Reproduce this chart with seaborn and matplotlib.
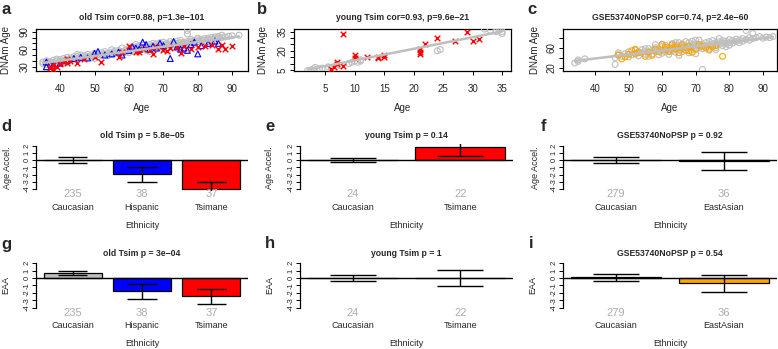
import numpy as np
import pandas as pd
import matplotlib
matplotlib.use("Agg")
import matplotlib.pyplot as plt
import seaborn as sns

# ---------------- data ----------------
# old Tsimane comparison: chronological age vs DNAm age
old_cauc_age = [35, 35, 36, 36, 36.5, 37, 37, 38, 38, 39, 39, 40, 40, 41, 41, 42, 42, 43, 43, 44,
                44, 45, 45, 46, 46, 47, 47, 48, 48, 49, 49, 50, 50, 51, 51, 52, 52, 53, 53, 54,
                54, 55, 55, 56, 56, 57, 57, 58, 58, 59, 59, 60, 60, 60, 61, 61, 61, 62, 62, 62,
                63, 63, 63, 64, 64, 64, 65, 65, 65, 66, 66, 66, 67, 67, 67, 68, 68, 68, 69, 69,
                69, 70, 70, 70, 71, 71, 71, 72, 72, 72, 73, 73, 73, 74, 74, 74, 75, 75, 75, 76,
                76, 76, 77, 77, 77, 77, 78, 78, 78, 79, 79, 79, 80, 80, 80, 81, 81, 82, 82, 83,
                83, 84, 84, 85, 85, 86, 86, 87, 87, 88, 89, 90, 92, 66, 70, 74, 58, 62, 45, 50, 55]
old_cauc_dnam = [38, 35, 40, 34, 37, 39, 36, 41, 37, 40, 43, 38, 42, 44, 40, 43, 46, 41, 45, 47,
                 43, 44, 48, 46, 50, 45, 49, 47, 51, 50, 46, 48, 53, 51, 47, 50, 54, 52, 56, 49,
                 53, 55, 51, 57, 53, 54, 58, 56, 52, 59, 55, 57, 61, 54, 59, 63, 56, 60, 64, 57,
                 61, 66, 58, 63, 60, 67, 62, 65, 58, 64, 68, 60, 63, 66, 70, 65, 61, 69, 66, 63,
                 71, 68, 64, 72, 67, 63, 70, 69, 65, 73, 68, 71, 64, 70, 66, 74, 71, 68, 75, 72,
                 69, 66, 73, 70, 92, 86, 74, 71, 77, 75, 72, 69, 76, 73, 79, 77, 74, 78, 75, 79,
                 76, 80, 77, 81, 78, 82, 79, 80, 84, 81, 82, 83, 84, 56, 60, 62, 62, 68, 51, 44, 59]
old_hisp_age = [36, 36, 38, 40, 42, 44, 46, 48, 50, 51, 53, 55, 57, 58, 60, 62, 63, 64, 65,
                66, 67, 68, 70, 72, 73, 74, 75, 76, 77, 78, 79, 80, 81, 83, 85, 86, 61, 69]
old_hisp_dnam = [30, 38, 33, 36, 40, 44, 46, 45, 53, 56, 50, 52, 55, 50, 58, 62, 60, 72, 68,
                 60, 65, 62, 66, 44, 73, 64, 60, 62, 58, 68, 72, 52, 66, 70, 74, 70, 64, 70]
old_tsim_age = [37, 37.5, 38, 38, 39, 40, 41, 42, 42, 43, 45, 47, 50, 52, 57, 58, 60, 62, 63,
                64, 66, 67, 68, 70, 72, 74, 75, 76, 78, 80, 82, 84, 86, 87, 88, 90, 71]
old_tsim_dnam = [27, 30, 26, 33, 29, 35, 38, 36, 44, 40, 36, 44, 46, 38, 47, 56, 66, 56, 55,
                 60, 58, 52, 64, 59, 62, 63, 53, 66, 60, 63, 66, 67, 60, 68, 61, 65, 57]

# young Tsimane comparison
young_cauc_age = [2, 2.5, 3, 3.3, 4, 4.5, 5.5, 6, 7, 7.5, 9, 9.5, 10, 10.5, 11, 11,
                  24, 24.5, 32, 33, 34, 34.5, 35, 35]
young_cauc_dnam = [4.5, 5, 6, 7, 6, 6.5, 7.5, 7, 9, 8.5, 10, 11, 12, 11, 13, 12,
                   20, 21, 37, 36, 35, 36.5, 35, 33.5]
young_tsim_age = [6, 6.5, 7, 7, 8, 8, 10, 10, 12, 14, 14, 15, 15, 21, 21, 22, 24, 27,
                  29, 30, 31, 21]
young_tsim_dnam = [6, 7, 10, 11.5, 8.5, 33.5, 17, 14.5, 15.5, 14.5, 15.5, 16.5, 15.5, 19,
                   21.5, 25, 30, 27.5, 35, 28, 29.5, 17.5]

# GSE53740 (no PSP) comparison
gse_cauc_age = [34, 35, 35, 37, 46, 46, 47, 47, 48, 49, 50, 50, 51, 52, 52, 53, 53, 54, 54, 55,
                55, 56, 56, 56, 57, 57, 58, 58, 59, 59, 60, 60, 60, 61, 61, 61, 62, 62, 62, 63,
                63, 63, 64, 64, 64, 65, 65, 65, 65, 66, 66, 66, 67, 67, 67, 68, 68, 68, 69, 69,
                69, 70, 70, 70, 70, 71, 71, 71, 72, 72, 72, 72, 73, 73, 73, 74, 74, 74, 75, 75,
                75, 76, 76, 76, 77, 77, 77, 78, 78, 78, 79, 79, 80, 80, 80, 81, 81, 82, 82, 83,
                83, 84, 84, 85, 85, 86, 86, 87, 87, 88, 89, 90, 91, 92, 93, 68, 64, 60, 58, 55,
                66, 74, 79, 70, 62, 76]
gse_cauc_dnam = [30, 33, 36, 38, 27, 40, 45, 50, 43, 48, 42, 52, 46, 49, 55, 44, 52, 50, 56, 47,
                 53, 58, 43, 51, 55, 48, 60, 52, 46, 56, 54, 62, 49, 58, 65, 52, 56, 60, 47, 62,
                 54, 68, 58, 65, 51, 60, 56, 70, 45, 63, 58, 67, 61, 55, 72, 64, 59, 50, 66, 61,
                 73, 63, 57, 68, 48, 65, 60, 75, 17, 67, 62, 58, 70, 64, 60, 66, 72, 61, 68, 63,
                 74, 70, 65, 60, 72, 67, 78, 69, 74, 64, 73, 68, 76, 70, 65, 74, 69, 77, 72, 75,
                 70, 78, 73, 94, 76, 80, 75, 88, 78, 80, 82, 79, 81, 80, 82, 70, 70, 67, 66, 58,
                 52, 55, 62, 75, 52, 56]
gse_asian_age = [47, 48, 49, 50, 51, 52, 52, 53, 55, 56, 57, 58, 59, 60, 61, 61, 62, 63, 63,
                 64, 64, 65, 66, 67, 68, 68, 69, 70, 71, 72, 73, 74, 75, 76, 78, 66]
gse_asian_dnam = [46, 38, 42, 47, 54, 48, 57, 50, 43, 51, 45, 57, 52, 66, 61, 56, 53, 66, 59,
                  57, 62, 50, 60, 55, 54, 62, 51, 57, 66, 63, 60, 57, 62, 64, 43, 66]

# group summaries for the bar panels
eth_old = ["Caucasian", "Hispanic", "Tsimane"]
eth_young = ["Caucasian", "Tsimane"]
eth_gse = ["Caucasian", "EastAsian"]
n_old = [235, 38, 37]
n_young = [24, 22]
n_gse = [279, 36]

ageaccel_old_mean = [0.0, -1.97, -4.0]
ageaccel_old_se = [0.42, 1.05, 1.0]
ageaccel_young_mean = [0.0, 1.87]
ageaccel_young_se = [0.3, 1.25]
ageaccel_gse_mean = [0.0, -0.13]
ageaccel_gse_se = [0.46, 1.23]

eaa_old_mean = [0.65, -1.8, -2.5]
eaa_old_se = [0.3, 1.0, 0.97]
eaa_young_mean = [0.02, 0.0]
eaa_young_se = [0.38, 1.02]
eaa_gse_mean = [0.08, -0.72]
eaa_gse_se = [0.45, 1.13]

eth_colors = {"Caucasian": "#BEBEBE", "Hispanic": "#0000FF",
              "Tsimane": "#FF0000", "EastAsian": "#FFA500"}

# ---------------- figure ----------------
sns.set_theme(style="white")
plt.rcParams["font.family"] = ["Liberation Sans", "DejaVu Sans"]
plt.rcParams["axes.unicode_minus"] = False

W, H = 778, 349
fig = plt.figure(figsize=(W / 100, H / 100), dpi=100)


def px_axes(l, t, r, b):
    return fig.add_axes([l / W, 1 - b / H, (r - l) / W, (b - t) / H])


def fig_text(x, y, s, **kw):
    fig.text(x / W, 1 - y / H, s, **kw)


GREY = "#BEBEBE"


def scatter_panel(rect, groups, xlim, ylim, xticks, yticks, ylabels, title, label_x):
    ax = px_axes(*rect)
    all_x, all_y = [], []
    for ages, dnam, marker, col in groups:
        if marker == "x":
            sns.scatterplot(x=ages, y=dnam, marker="x", color=col, s=16,
                            linewidth=1.0, ax=ax, zorder=3)
        else:
            sns.scatterplot(x=ages, y=dnam, marker=marker, facecolor="none",
                            edgecolor=col, s=18, linewidth=0.8, ax=ax, zorder=3)
        all_x += list(ages)
        all_y += list(dnam)
    sns.regplot(x=np.array(all_x), y=np.array(all_y), scatter=False, ci=None,
                color=GREY, line_kws={"lw": 1.8, "zorder": 4}, ax=ax, truncate=True)
    ax.set_xlim(*xlim)
    ax.set_ylim(*ylim)
    ax.set_xticks(xticks)
    ax.set_xticklabels([str(t) for t in xticks], fontsize=7)
    ax.set_yticks(yticks)
    ax.set_yticklabels([str(t) if t in ylabels else "" for t in yticks],
                       fontsize=7, rotation=90, va="center")
    ax.tick_params(axis="both", direction="out", length=3, width=0.7, color="black")
    ax.tick_params(axis="x", pad=6.5)
    ax.tick_params(axis="y", pad=1.5, left=True)
    ax.tick_params(axis="x", bottom=True)
    ax.set_xlabel("")
    ax.set_ylabel("")
    for sp in ax.spines.values():
        sp.set_visible(True)
        sp.set_color("black")
        sp.set_linewidth(0.9)
    cx = (rect[0] + rect[2]) / 2
    fig_text(cx, 17, title, fontsize=6.2, fontweight="bold", ha="center", va="center")
    fig_text(cx, 108, "Age", fontsize=7, ha="center", va="center")
    fig_text(label_x, (rect[1] + rect[3]) / 2, "DNAm Age", fontsize=7,
             rotation=90, ha="center", va="center")
    return ax


def bar_panel(rect, cats, means, ses, ns, ylabel, title, label_x, row_y):
    ax = px_axes(*rect)
    bw = 1 / 1.2
    df = pd.DataFrame({"Ethnicity": cats, "value": means})
    sns.barplot(data=df, x="Ethnicity", y="value", hue="Ethnicity", order=cats,
                palette=eth_colors, width=bw, edgecolor="black", linewidth=0.9,
                errorbar=None, legend=False, saturation=1, ax=ax)
    ax.axhline(0, color="black", lw=1.0, zorder=5)
    hw = bw * 0.255
    for i, (m, s) in enumerate(zip(means, ses)):
        ax.vlines(i, m - s, m + s, color="black", lw=1.0, zorder=6)
        ax.hlines([m - s, m + s], i - hw, i + hw, color="black", lw=1.0, zorder=6)
        ax.annotate(str(ns[i]), xy=(i, 0), xycoords=("data", "axes fraction"),
                    xytext=(0, -2.6), textcoords="offset points", ha="center",
                    va="center", fontsize=8, color="#ADADAD")
    n = len(cats)
    if n == 3:
        ax.set_xlim(-0.53, 2.53)
    else:
        ax.set_xlim(-0.49, 1.49)
    ax.set_ylim(-4.24, 2.24)
    ax.set_yticks([2, 1, 0, -1, -2, -3, -4])
    ax.set_yticklabels(["2", "1", "0", "-1", "-2", "-3", "-4"], fontsize=5.5,
                       rotation=90, va="center")
    ax.set_xticks(range(n))
    ax.set_xticklabels(cats, fontsize=6.5)
    ax.tick_params(axis="x", length=0, pad=8.5)
    ax.tick_params(axis="y", direction="out", length=3, width=0.7, pad=1, left=True,
                   color="black")
    for side in ("top", "right", "bottom"):
        ax.spines[side].set_visible(False)
    ax.spines["left"].set_visible(True)
    ax.spines["left"].set_color("black")
    ax.spines["left"].set_linewidth(0.9)
    ax.spines["left"].set_bounds(-4, 2)
    ax.set_xlabel("")
    ax.set_ylabel("")
    cx = (rect[0] + rect[2]) / 2
    fig_text(cx, row_y[0], title, fontsize=6.2, fontweight="bold", ha="center", va="center")
    fig_text(cx, row_y[1], "Ethnicity", fontsize=6.5, ha="center", va="center")
    fig_text(label_x, (rect[1] + rect[3]) / 2, ylabel, fontsize=6.5,
             rotation=90, ha="center", va="center")
    return ax


# row 1: scatter plots
scatter_panel((36, 29, 248, 71),
              [(old_cauc_age, old_cauc_dnam, "o", GREY),
               (old_hisp_age, old_hisp_dnam, "^", "#0000FF"),
               (old_tsim_age, old_tsim_dnam, "x", "#FF0000")],
              (33.0, 94.6), (22.6, 94.6), [40, 50, 60, 70, 80, 90],
              [30, 40, 50, 60, 70, 80, 90], [30, 60, 90],
              "old Tsim cor=0.88, p=1.3e\u2212101", 6)
scatter_panel((294, 29, 511, 71),
              [(young_cauc_age, young_cauc_dnam, "o", GREY),
               (young_tsim_age, young_tsim_dnam, "x", "#FF0000")],
              (-0.3, 36.5), (4.2, 37.1), [5, 10, 15, 20, 25, 30, 35],
              [5, 10, 15, 20, 25, 30, 35], [5, 20, 35],
              "young Tsim cor=0.93, p=9.6e\u221221", 262.5)
scatter_panel((563, 29, 777, 71),
              [(gse_cauc_age, gse_cauc_dnam, "o", GREY),
               (gse_asian_age, gse_asian_dnam, "o", "#FFA500")],
              (30.5, 94.2), (14.0, 97.0), [40, 50, 60, 70, 80, 90],
              [20, 40, 60, 80], [20, 60],
              "GSE53740NoPSP cor=0.74, p=2.4e\u221260", 535)

# row 2: age acceleration
bar_panel((36, 144, 248, 190.7), eth_old, ageaccel_old_mean, ageaccel_old_se, n_old,
          "Age Accel.", "old Tsim p = 5.8e\u221205", 7, (136, 225))
bar_panel((300, 144, 513, 190.7), eth_young, ageaccel_young_mean, ageaccel_young_se,
          n_young, "Age Accel.", "young Tsim p = 0.14", 270, (136, 225))
bar_panel((563, 144, 777, 190.7), eth_gse, ageaccel_gse_mean, ageaccel_gse_se, n_gse,
          "Age Accel.", "GSE53740NoPSP p = 0.92", 536, (136, 225))

# row 3: extrinsic epigenetic age acceleration
bar_panel((36, 261.5, 248, 309.3), eth_old, eaa_old_mean, eaa_old_se, n_old,
          "EAA", "old Tsim p = 3e\u221204", 6, (253, 343))
bar_panel((300, 261.5, 513, 309.3), eth_young, eaa_young_mean, eaa_young_se, n_young,
          "EAA", "young Tsim p = 1", 270, (253, 343))
bar_panel((563, 261.5, 777, 309.3), eth_gse, eaa_gse_mean, eaa_gse_se, n_gse,
          "EAA", "GSE53740NoPSP p = 0.54", 533, (253, 343))

# panel letters
for letter, x, y in [("a", 1, 10), ("b", 257, 10), ("c", 527, 10),
                     ("d", 1, 127), ("e", 265, 127), ("f", 541, 127),
                     ("g", 1, 244), ("h", 265, 244), ("i", 529, 244)]:
    fig_text(x, y, letter, fontsize=12, fontweight="bold", ha="left", va="center")

fig.savefig("out.png", dpi=100)
